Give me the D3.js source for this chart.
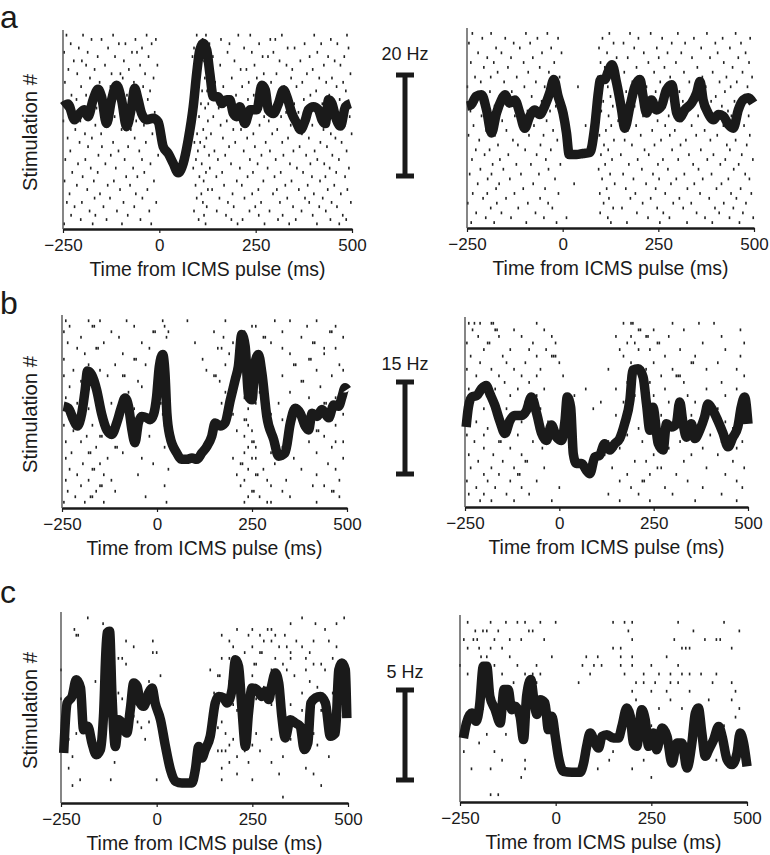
<!DOCTYPE html>
<html><head><meta charset="utf-8">
<script src="https://cdn.jsdelivr.net/npm/d3@7"></script>
<style>
body{margin:0;background:#fff}
svg{display:block}
text{font-family:"Liberation Sans",Arial,sans-serif;fill:#1a1a1a}
</style>
</head><body>
<svg id="fig" width="770" height="855"></svg>
<script>
// ---------- data ----------
const tickValues = [-250, 0, 250, 500];
const xTitle = "Time from ICMS pulse (ms)";
const yTitle = "Stimulation #";
const rowLetters = ["a", "b", "c"];
const scaleBarHz = [20, 15, 5];

// PSTH traces: [time (ms), rate (Hz)]
const psthA1 = [[-250,23.3],[-237,23.8],[-220,20.8],[-207,22.0],[-194,22.7],[-185,21.4],[-172,24.6],[-159,26.6],[-150,25.2],[-137,20.1],[-124,24.6],[-111,27.4],[-98,24.6],[-85,19.5],[-72,23.3],[-64,26.8],[-55,24.6],[-46,22.0],[-33,20.8],[-16,21.1],[-3,20.4],[10,15.7],[23,14.4],[36,12.5],[49,10.7],[62,12.5],[75,17.0],[88,23.3],[97,29.7],[105,34.1],[114,35.4],[123,34.1],[131,29.7],[140,25.2],[153,25.2],[162,23.9],[175,24.6],[183,24.6],[192,22.0],[201,21.4],[209,23.3],[222,20.1],[236,22.7],[253,22.7],[266,27.4],[275,26.5],[283,22.7],[296,22.0],[309,23.9],[322,26.5],[331,25.2],[344,22.0],[357,20.1],[366,18.9],[379,20.8],[387,22.7],[400,23.3],[413,22.7],[422,20.8],[431,20.1],[439,24.6],[448,23.9],[457,21.4],[470,19.6],[483,23.3],[496,23.9]];
const psthA2 = [[-250,23.2],[-239,23.5],[-226,25.1],[-212,25.4],[-199,22.5],[-186,18.1],[-173,21.9],[-160,24.4],[-151,25.4],[-138,23.8],[-125,24.4],[-112,21.9],[-99,19.0],[-86,21.3],[-73,22.5],[-60,21.6],[-47,23.2],[-34,25.7],[-23,28.3],[-12,25.1],[1,21.9],[10,18.1],[17,14.0],[36,14.0],[53,14.2],[71,14.4],[84,19.4],[93,25.7],[99,28.3],[110,28.3],[119,29.8],[129,31.1],[141,27.6],[154,22.5],[162,19.0],[176,23.2],[189,27.0],[202,28.3],[210,25.1],[219,21.9],[232,24.4],[245,22.5],[258,23.2],[271,26.3],[285,27.3],[298,21.9],[306,21.0],[319,22.5],[337,23.8],[350,25.7],[359,27.9],[367,24.4],[380,21.9],[394,20.6],[407,21.6],[420,21.3],[433,19.7],[446,19.0],[459,22.5],[472,24.4],[485,24.8],[498,23.8]];
const psthB1 = [[-246,15.9],[-233,15.6],[-220,13.8],[-210,12.8],[-198,14.8],[-189,18.5],[-183,21.4],[-172,20.8],[-159,18.5],[-146,14.8],[-132,12.2],[-119,11.5],[-106,13.3],[-93,15.9],[-84,17.2],[-75,15.9],[-66,12.2],[-58,10.2],[-49,13.3],[-40,14.3],[-27,14.1],[-18,13.8],[-9,14.6],[-1,17.4],[6,22.1],[15,24.0],[21,21.1],[26,14.8],[34,11.2],[52,8.6],[65,7.6],[78,7.6],[92,7.8],[105,7.6],[118,8.6],[131,9.6],[144,11.2],[153,13.3],[166,12.8],[179,13.3],[193,16.9],[206,20.1],[214,22.1],[223,27.1],[232,25.3],[241,17.4],[250,16.9],[258,22.7],[267,24.0],[276,21.1],[289,14.3],[307,10.7],[320,8.1],[337,8.6],[351,13.3],[364,15.6],[377,14.8],[390,12.8],[399,12.2],[408,14.8],[421,14.3],[434,15.4],[452,14.1],[465,16.1],[478,15.9],[487,17.4],[495,18.8],[500,18.5]];
const psthB2 = [[-247,12.5],[-241,15.6],[-232,17.2],[-219,17.4],[-206,18.5],[-194,19.0],[-184,17.7],[-171,15.9],[-157,13.3],[-144,11.5],[-131,13.5],[-118,14.3],[-100,14.3],[-87,15.1],[-74,17.2],[-60,14.6],[-47,11.5],[-34,10.4],[-21,12.8],[-7,10.9],[6,10.4],[15,13.5],[21,17.2],[30,15.6],[37,8.3],[45,6.8],[59,6.8],[72,5.7],[81,5.2],[94,7.8],[107,8.1],[120,9.9],[134,8.9],[147,9.9],[160,10.7],[173,13.0],[187,16.7],[195,21.4],[209,21.6],[222,20.3],[231,16.1],[240,12.0],[248,15.6],[262,9.9],[275,8.9],[284,13.0],[297,12.5],[310,13.0],[319,16.4],[328,13.0],[337,10.9],[350,13.0],[359,10.7],[372,12.0],[385,14.1],[394,16.1],[407,15.1],[420,13.5],[434,11.5],[447,9.4],[460,10.9],[473,12.5],[482,15.6],[491,17.2],[500,13.0]];
const psthC1 = [[-243,2.66],[-234,5.32],[-221,5.67],[-210,6.56],[-199,6.12],[-191,3.90],[-180,4.08],[-169,3.19],[-158,2.57],[-147,2.84],[-139,4.61],[-130,9.04],[-123,9.13],[-117,5.85],[-108,3.01],[-99,4.43],[-91,4.26],[-78,3.72],[-69,4.96],[-60,6.38],[-51,6.21],[-43,5.32],[-34,5.14],[-21,5.85],[-12,6.12],[-4,5.32],[10,4.43],[23,3.01],[36,1.77],[49,1.15],[66,1.06],[92,1.06],[101,1.77],[110,3.01],[118,2.39],[127,2.84],[140,3.55],[153,5.32],[162,5.67],[175,5.59],[184,5.32],[197,6.03],[206,7.62],[214,7.27],[223,4.96],[232,3.01],[240,4.79],[249,6.12],[262,6.03],[275,5.67],[284,5.94],[293,5.50],[301,6.29],[310,6.91],[319,6.38],[327,4.61],[336,3.46],[349,4.43],[362,4.26],[375,4.08],[386,2.84],[395,3.19],[403,5.32],[415,5.59],[428,5.67],[441,5.32],[454,3.55],[467,3.72],[476,7.09],[484,7.45],[493,7.09],[497,4.52]];
const psthC2 = [[-241,3.40],[-233,4.20],[-219,4.73],[-208,4.29],[-199,5.09],[-189,7.22],[-180,7.22],[-172,5.62],[-158,4.91],[-145,4.20],[-135,5.98],[-124,5.98],[-115,4.91],[-106,5.09],[-93,4.56],[-84,3.32],[-76,5.62],[-65,6.51],[-56,5.27],[-49,4.65],[-41,5.44],[-28,5.27],[-19,3.85],[-10,4.56],[-1,3.49],[7,2.43],[20,1.63],[42,1.58],[64,1.58],[73,2.07],[81,2.96],[90,3.67],[103,3.14],[112,2.87],[121,3.49],[134,3.58],[151,3.40],[164,3.40],[173,4.02],[186,5.00],[195,4.56],[203,3.14],[212,2.96],[225,4.91],[234,4.38],[243,2.96],[256,3.67],[264,2.78],[278,3.94],[291,3.49],[304,2.07],[317,3.14],[330,3.14],[343,1.81],[356,3.14],[365,4.73],[373,5.00],[382,3.67],[391,2.43],[400,2.78],[413,3.32],[426,4.02],[435,3.49],[448,2.25],[461,1.99],[474,2.61],[482,3.67],[491,3.14],[500,1.90]];

// Raster spikes: one array of spike times (ms) per stimulation, top row first
const rasterA1 = [
[-241,-198,-120,-33,97,121,205,236,318,402,487],[-176,-150,-62,-9,112,160,288,301,445],[-230,-105,-88,-20,130,182,259,377,420,462],
[-209,-133,-45,90,104,220,333,351,491],[-247,-186,-71,-58,125,177,240,296,410],[-160,-115,-28,86,139,268,282,390,438,480],
[-222,-201,-92,107,116,195,312,366,455],[-190,-141,-50,-5,99,158,247,330,427,470],[-236,-168,-79,128,211,226,345,398],
[-213,-124,-101,-37,93,136,271,304,383,496],[-180,-95,-15,118,188,253,342,415,448],[-245,-155,-66,101,145,232,290,371,433,477],
[-203,-127,-42,89,166,215,324,356,460],[-171,-110,-24,111,124,262,279,407,484],[-228,-190,-84,-55,135,199,245,338,392,441],
[-215,-145,-30,96,170,230,310,375,468],[-240,-100,-70,108,127,183,266,350,423,490],[-195,-163,-48,119,154,251,298,402,452],
[-224,-132,-12,92,207,238,329,361,475],[-183,-116,-86,103,140,272,316,412,439,494],[-249,-205,-60,-27,126,175,223,284,380,463],
[-166,-138,-40,87,159,260,341,397,481],[-218,-98,-74,114,192,212,306,354,426],[-193,-151,-18,98,134,244,293,370,445,499],
[-238,-175,-64,122,165,228,334,388,457],[-207,-120,-35,91,106,197,276,319,418,473],[-185,-149,-81,117,181,248,364,435],
[-231,-106,-52,100,143,219,287,348,403,486],[-158,-126,-3,129,171,265,322,381,449],[-244,-192,-90,-45,95,152,235,302,410,466],
[-211,-140,-23,110,186,255,339,392,428],[-178,-113,-68,88,131,209,281,357,442,492],[-226,-160,-39,121,163,243,315,373,459],
[-199,-86,-57,104,148,229,299,396,431,482],[-246,-170,-118,-14,115,201,270,343,417],[-214,-134,-76,94,168,214,327,385,454],
[-187,-102,-31,126,137,257,305,362,437,488],[-233,-154,-61,109,190,241,295,401,471],[-168,-128,-44,97,156,221,332,378,424],
[-240,-201,-93,-8,113,178,264,313,389,447,497],[-220,-145,-65,123,193,249,347,415,461],[-181,-110,-26,90,149,234,286,369,432],
[-229,-166,-82,116,173,258,320,398,476],[-204,-137,-49,102,187,216,308,354,444,485],[-247,-173,-97,-21,120,203,273,337,409,467]
];
const rasterA2 = [
[-236,-187,-96,-40,122,176,230,301,377,452],[-210,-150,-66,-12,104,198,260,343,418,490],[-245,-128,-85,133,159,285,320,399,466],
[-174,-112,-30,95,187,246,362,437],[-221,-160,-54,-3,116,212,274,310,405,478],[-197,-135,-78,141,170,251,338,385,459],
[-240,-180,-102,-22,99,127,224,296,421,487],[-206,-143,-60,110,193,266,352,444],[-170,-90,-36,128,161,239,317,392,470],
[-229,-188,-120,-8,92,205,281,365,428,495],[-214,-153,-70,137,182,255,331,410,455],[-249,-100,-47,40,118,219,290,374,439,483],
[-190,-133,-28,97,166,243,305,357,424],[-225,-165,-81,125,201,272,346,400,476],[-203,-114,-55,106,150,232,314,388,449,492],
[-178,-140,-18,131,188,260,328,416,463],[-241,-196,-92,-33,101,176,229,299,380,432],[-212,-125,-64,120,210,277,354,441,486],
[-186,-158,-42,93,145,248,311,396,458],[-233,-106,-75,60,127,192,268,337,420,474],[-200,-147,-25,113,170,234,293,371,445],
[-246,-177,-88,-50,96,204,280,349,404,489],[-218,-130,-14,134,162,257,322,386,452],[-169,-117,-58,108,181,240,308,429,481],
[-227,-191,-98,-31,119,214,286,361,437],[-204,-142,-68,100,152,225,330,394,468],[-237,-164,-44,129,196,262,302,378,425,497],
[-183,-121,-83,-6,111,173,249,341,412,460],[-215,-155,-37,94,207,275,355,447],[-243,-186,-109,-62,124,158,236,318,389,477],
[-196,-138,-20,103,185,252,297,366,433,488],[-222,-166,-77,30,136,218,283,344,415],[-174,-103,-46,115,165,243,326,402,465],
[-235,-197,-126,-11,97,190,268,359,440,493],[-208,-148,-59,121,177,230,305,383,454],[-248,-172,-91,-38,107,209,289,336,421,479],
[-188,-116,-27,132,155,247,315,398,446],[-226,-160,-71,98,194,263,350,409,471],[-201,-135,-49,10,118,223,279,372,436,498],
[-239,-179,-95,-16,126,168,254,325,391,462]
];
const rasterB1 = [
[-240,-180,-150,-80,15,80,180,310,350,420],[-230,-170,-165,-60,20,250,260,395,470],[-245,-120,-10,-5,30,150,230,330,455,460],[-200,-100,25,175,280,285,380,490],
[-235,-140,-40,100,200,300,410,415],[-210,-160,-155,-20,160,170,330,440,470],[-190,-90,10,190,260,350,440],[-245,-60,-55,120,220,400,405],
[-180,-110,-30,180,270,360,365,480],[-220,-150,0,130,210,420,490],[-245,-130,-90,-85,150,155,250,330,460],[-200,-50,30,165,240,380,385],
[-230,-180,-40,20,200,205,290,430,490],[-160,-75,180,270,350],[-240,-190,-185,-10,230,235,400,470],[-210,-120,10,170,260,320,440,445],
[-180,-80,-60,190,240,370,480],[-235,-140,15,200,300,410,490],[-200,-110,-40,180,230,235,330,460],[-245,-170,-50,20,240,290,380,470],
[-220,-130,-70,210,250,420,425],[-185,-150,-145,-20,230,310,440],[-240,-200,-60,250,255,400,470,490],[-160,-110,-105,20,240,260,330,460],
[-225,-180,-175,-90,230,300,420],[-240,-130,-40,200,250,260,360,490],[-195,-150,-10,220,225,310,450],[-230,-170,-165,30,240,280,380,470],
[-210,-140,-50,210,260,265,420],[-240,-180,-120,230,290,340,480],[-200,-150,-145,20,220,300,410,440],[-235,-160,-110,250,255,330,460,465],
[-215,-175,-170,-30,240,270,350,480],[-245,-190,-140,25,230,290,300,420]
];
const rasterB2 = [
[-240,-225,-210,-180,-175,-60,170,190,195,300,370,410],[-230,-170,-165,-120,-40,210,215,250,330,480],[-215,-160,-100,-20,150,190,230,235,290,430],
[-245,-190,-185,-70,-10,180,200,260,265,380,490],[-200,-130,-80,-35,160,210,240,320,440],[-235,-150,-60,-20,-15,-10,170,280,360,480],
[-210,-140,-90,0,190,250,350,355,420],[-245,-180,-120,-50,130,230,300,390,470],[-220,-160,-100,-60,10,270,310,315,320,490],
[-195,-145,-80,180,240,330,430],[-240,-170,-110,-40,70,150,280,390,470],[-215,-130,-60,40,200,250,340,440],
[-230,-180,-90,110,170,290,360,480],[-200,-140,-50,90,230,310,420],[-240,-160,-120,-115,150,270,350,470],
[-220,-100,-30,180,240,330,440,490],[-190,-150,-60,210,300,370,460],[-245,-200,-110,-40,170,180,260,400],
[-225,-160,-155,-70,130,220,320,430,485],[-200,-130,-45,150,160,290,380,470],[-240,-175,-100,120,250,350,420],
[-215,-150,-90,-85,60,200,230,330,460],[-235,-180,-120,-40,140,260,270,390,490],[-200,-160,-110,-105,180,240,310,440],
[-245,-190,-130,-60,160,220,225,340,470],[-220,-170,-100,0,190,280,380,485],[-240,-200,-140,-80,130,210,300,430],
[-210,-180,-120,-20,160,240,360,470]
];
const rasterC1 = [
[-180,380,490],[-140,350,415,470],[-215,210,250,290,300,440],[-210,-205,170,240,270,310,335],[-80,-10,190,280,300,365,410,450],
[-60,200,250,320,340,380,470],[-10,0,230,270,275,350,400],[-100,-90,170,190,310,350,390,460],[-80,255,260,330,410,430],
[-250,140,200,300,340,390,440],[10,160,165,250,320,360],[-160,-20,190,300,310,400],[-210,200,280,420,470],[-140,-100,150,240,380,460],
[-250,-90,180,260,430,470],[-50,-40,200,300,350],[-110,210,380,430],[-60,150,240,330,480],[-50,-20,170,225,390],[-180,-40,160,230,440],
[-210,180,260,410],[-230,-30,200,300,350],[-100,190,250,420],[160,170,180,230,270],[-220,210,330,450],[-110,190,240,300],
[-230,170,390],[210,320,410],[-200,-120,0,170,250],[-220,430],[],[330]
];
const rasterC2 = [
[-230,-170,-130,-100,-80,-40,0,150,180,200,320,440],[-210,-190,-180,-150,-70,-60,190,360,480],
[-240,-215,-205,-160,-120,-90,-30,200,310,390,420,430],[-230,-200,-170,-140,150,170,330,340,350,460],
[-195,-180,-120,-10,80,110,170,200,290],[-250,-160,-100,-50,70,100,120,170,200,250,320],
[-230,-140,-80,-60,-40,90,180,230,270,300,330,350,380,420],[-110,-50,60,210,230,260,300,320,410,460],
[-70,200,250,290,350,470],[-60,210,300,400,460],[-190,220,270,330,480],[-140,190,240,470],[-30,230,250,440],
[-180,-130,120,200,350],[-200,100,210,270,280],[-240,-160,150,380],[-140,-80,140,230,420,440],[-220,-170,-80,70,110,200],
[-90,250],[],[-170,-150]
];

// ---------- layout ----------
const rows = [
  {letterY: 28, barBottom: 178, barLen: 105, hzY: 60,
   panels: [{x0: 63, x1: 352, top: 30, axis: 229, psth: psthA1, raster: rasterA1, showY: true},
            {x0: 467, x1: 754, top: 28, axis: 228, psth: psthA2, raster: rasterA2, showY: false}]},
  {letterY: 314, barBottom: 476, barLen: 96, hzY: 370,
   panels: [{x0: 62, x1: 347, top: 315, axis: 508, psth: psthB1, raster: rasterB1, showY: true},
            {x0: 465, x1: 748, top: 317, axis: 507, psth: psthB2, raster: rasterB2, showY: false}]},
  {letterY: 603, barBottom: 782, barLen: 94, hzY: 678,
   panels: [{x0: 61, x1: 348, top: 612, axis: 803, psth: psthC1, raster: rasterC1, showY: true},
            {x0: 460, x1: 747, top: 615, axis: 802, psth: psthC2, raster: rasterC2, showY: false}]}
];
const ink = "#1a1a1a";
const svg = d3.select("#fig");

rows.forEach((row, ri) => {
  svg.append("text").attr("x", 0).attr("y", row.letterY)
    .style("font-size", "32px").text(rowLetters[ri]);

  row.panels.forEach(p => {
    const g = svg.append("g");
    const x = d3.scaleLinear().domain([-250, 500]).range([p.x0, p.x1]);
    const y = d3.scaleLinear().domain([0, scaleBarHz[ri]]).range([p.axis, p.axis - row.barLen]);
    const trial = d3.scaleLinear().domain([0, p.raster.length]).range([p.top + 3, p.axis - 3]);

    // raster
    const spikes = [];
    p.raster.forEach((times, i) => times.forEach(t => spikes.push({t, i})));
    g.append("g").selectAll("rect").data(spikes).join("rect")
      .attr("x", d => x(d.t) - 0.8).attr("y", d => trial(d.i + 0.5) - 1.4)
      .attr("width", 1.6).attr("height", 2.8).attr("fill", "#222");

    // y axis (plain line)
    g.append("line").attr("x1", p.x0).attr("x2", p.x0).attr("y1", p.top).attr("y2", p.axis)
      .attr("stroke", "#444").attr("stroke-width", 1.3);

    // x axis
    const ax = g.append("g").attr("transform", `translate(0,${p.axis})`)
      .call(d3.axisBottom(x).tickValues(tickValues).tickSize(4).tickSizeOuter(0));
    ax.select(".domain").attr("stroke", ink).attr("stroke-width", 2.6);
    ax.selectAll(".tick line").attr("stroke", ink).attr("stroke-width", 1.2);
    ax.selectAll(".tick text").attr("y", 22).attr("dy", 0)
      .style("font-size", "17px").style("font-family", "'Liberation Sans', Arial, sans-serif").attr("fill", ink);

    g.append("text").attr("x", (p.x0 + p.x1) / 2).attr("y", p.axis + 47)
      .attr("text-anchor", "middle").style("font-size", "20px")
      .attr("textLength", 236).attr("lengthAdjust", "spacingAndGlyphs").text(xTitle);

    if (p.showY) {
      const cy = (p.top + p.axis) / 2 + 3;
      g.append("text").attr("transform", `translate(37,${cy}) rotate(-90)`)
        .attr("text-anchor", "middle").style("font-size", "20px")
        .attr("textLength", 117).attr("lengthAdjust", "spacingAndGlyphs").text(yTitle);
    }

    // PSTH
    g.append("path").datum(p.psth)
      .attr("d", d3.line().x(d => x(d[0])).y(d => y(d[1])).curve(d3.curveMonotoneX))
      .attr("fill", "none").attr("stroke", ink).attr("stroke-width", 9.5)
      .attr("stroke-linejoin", "round").attr("stroke-linecap", "butt");
  });

  // scale bar
  const bx = 405, yb = row.barBottom, yt = row.barBottom - row.barLen;
  const sb = svg.append("g").attr("stroke", ink);
  sb.append("line").attr("x1", bx).attr("x2", bx).attr("y1", yt).attr("y2", yb).attr("stroke-width", 5);
  sb.append("line").attr("x1", bx - 9).attr("x2", bx + 9).attr("y1", yt + 2).attr("y2", yt + 2).attr("stroke-width", 5);
  sb.append("line").attr("x1", bx - 9).attr("x2", bx + 9).attr("y1", yb - 2).attr("y2", yb - 2).attr("stroke-width", 5);
  svg.append("text").attr("x", bx).attr("y", row.hzY).attr("text-anchor", "middle")
    .style("font-size", "18px").text(scaleBarHz[ri] + " Hz");
});
</script>
</body></html>
